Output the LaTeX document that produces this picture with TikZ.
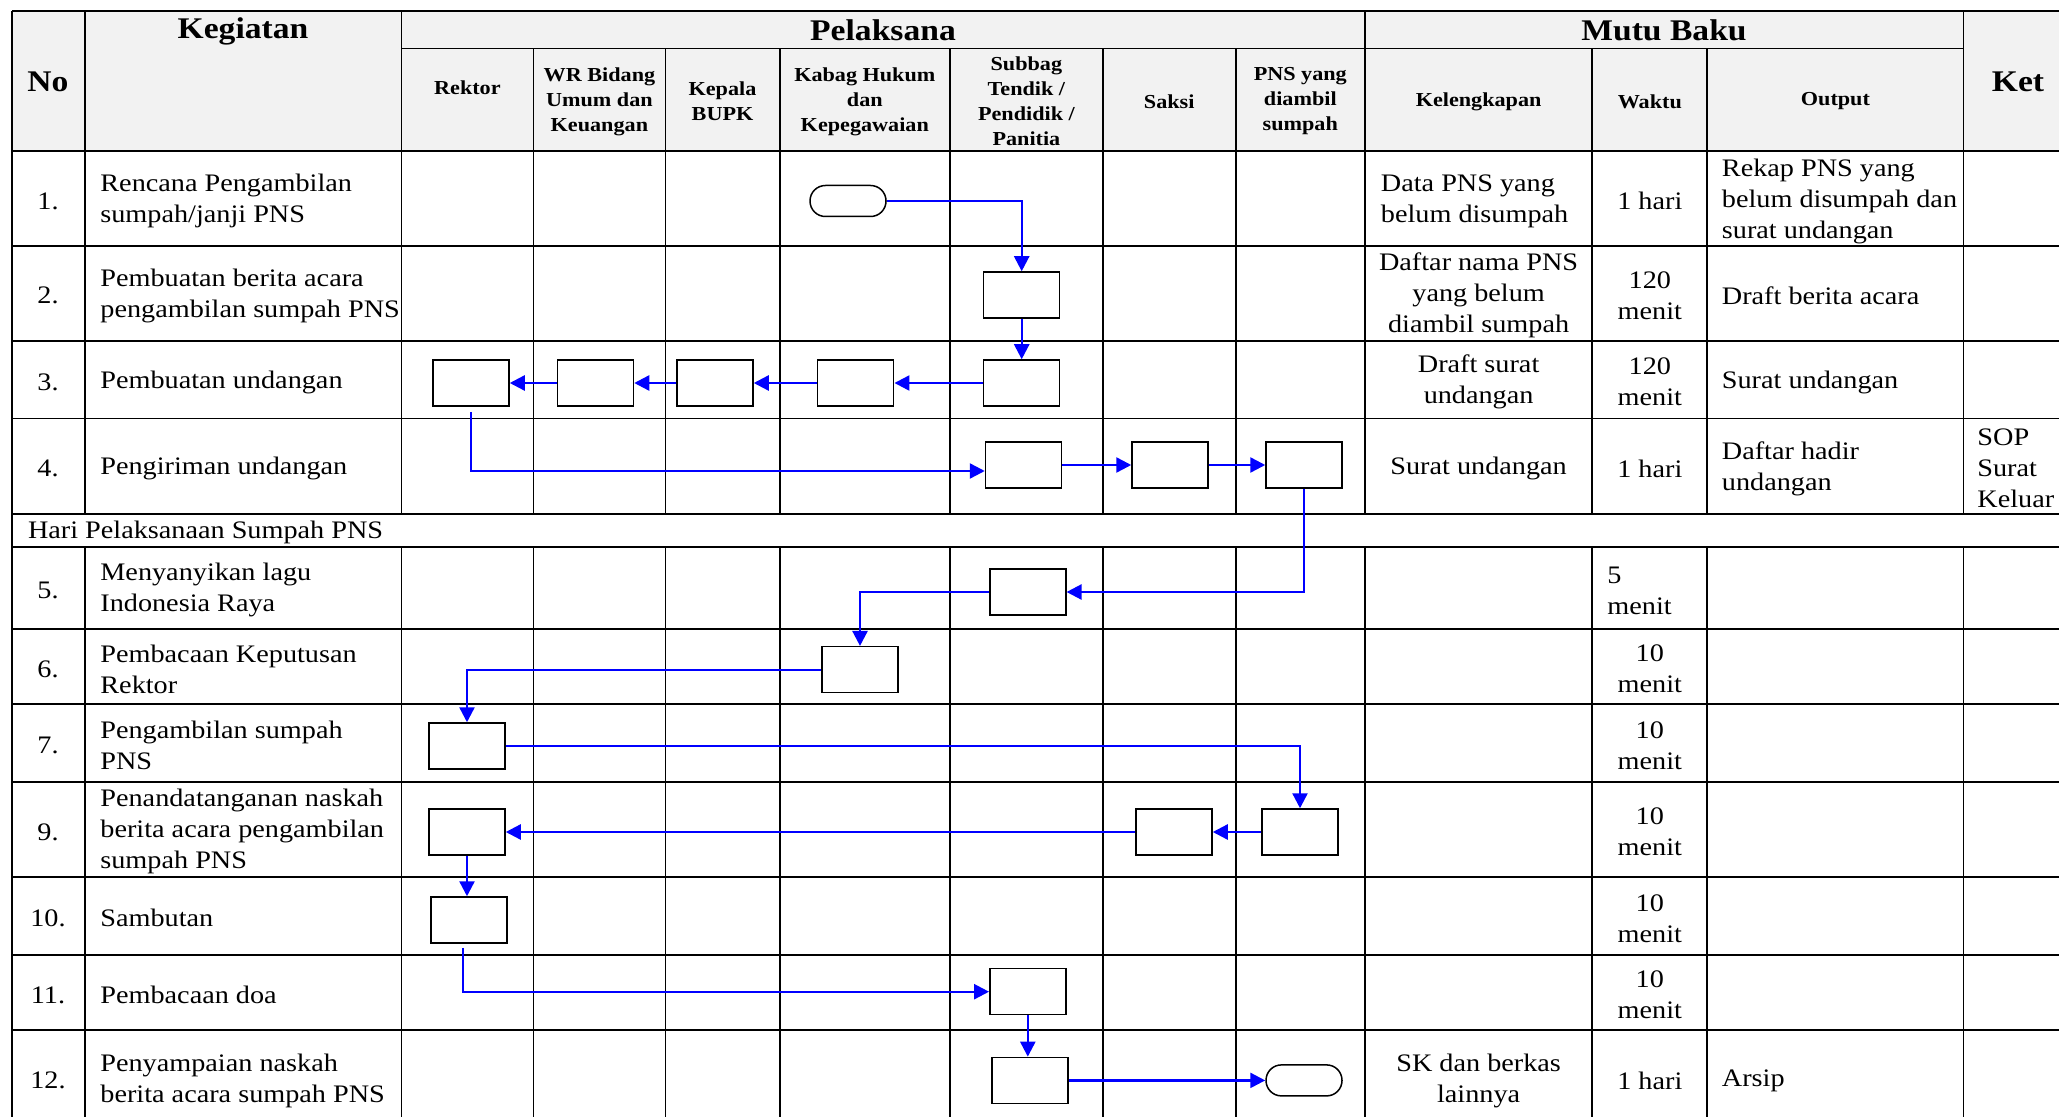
\documentclass[tikz,border=0pt]{standalone}
\usepackage{fontspec}
\setmainfont{Liberation Serif}[FakeStretch=1.12]
\usetikzlibrary{arrows.meta}
\definecolor{hdr}{HTML}{F2F2F2}
\definecolor{flow}{RGB}{0,0,255}
\newcommand\bodyfont{\fontsize{12.6}{15.5}\selectfont}
\newcommand\subfont{\fontsize{9.9}{12.5}\selectfont\bfseries}
\newcommand\bigfont{\fontsize{15}{17}\selectfont\bfseries}
\begin{document}
\begin{tikzpicture}[x=0.5pt,y=-0.5pt,
  box/.style={draw=black, line width=0.75pt, fill=white, minimum width=38pt, minimum height=23pt, inner sep=0pt},
  term/.style={draw=black, line width=0.75pt, fill=white, rounded corners=7.7pt, minimum width=38pt, minimum height=15.5pt, inner sep=0pt},
  arr/.style={draw=flow, line width=1.2pt, -{Triangle[length=7.5pt,width=7.5pt]}},
  gridline/.style={line width=0.9pt},
  thin/.style={line width=0.6pt},
  body/.style={font=\bodyfont, inner sep=0pt, yshift=-1.3pt},
  sub/.style={font=\subfont, align=center, inner sep=0pt, yshift=-1pt},
  big/.style={font=\bigfont, inner sep=0pt}]
\useasboundingbox (0,0) rectangle (2059,1117);
% header fill
\fill[hdr] (12,10.7) rectangle (2073,151);
% horizontal lines
\draw[gridline] (12,10.7) -- (2073,10.7);
\draw[thin] (401.4,48.2) -- (1963.5,48.2);
\draw[line width=1pt] (12,151) -- (2073,151);
\foreach \y in {245.7,340.7,418.5,513.6,546.8,628.7,703.8,781.8,876.7,954.7,1029.8}
  \draw[gridline] (12,\y) -- (2073,\y);
% vertical lines
\draw[gridline] (12,10.7) -- (12,1130);
\foreach \x in {84.7,401.4,1365,1963.5}{
  \draw[gridline] (\x,10.7) -- (\x,513.6);
  \draw[gridline] (\x,546.8) -- (\x,1130);}
\foreach \x in {533.4,665.4,779.7,949.9,1102.9,1235.6,1592.3,1707.3}{
  \draw[gridline] (\x,48.2) -- (\x,513.6);
  \draw[gridline] (\x,546.8) -- (\x,1130);}
% header texts
\node[big] (hNo) at (48,81.5) {No};
\node[big] (hKeg) at (243,31) {Kegiatan};
\node[big] (hPel) at (883,30) {Pelaksana};
\node[big] (hMutu) at (1664,30) {Mutu Baku};
\node[big] (hKet) at (2018,82) {Ket};
\node[sub] (s1) at (467.4,86) {Rektor};
\node[sub] (s2) at (599.4,99.5) {WR Bidang\\Umum dan\\Keuangan};
\node[sub] (s3) at (722.5,99.5) {Kepala\\BUPK};
\node[sub] (s4) at (864.8,99.5) {Kabag Hukum\\dan\\Kepegawaian};
\node[sub] (s5) at (1026.4,99.5) {Subbag\\Tendik /\\Pendidik /\\Panitia};
\node[sub] (s6) at (1169.2,99.5) {Saksi};
\node[sub] (s7) at (1300.3,99.5) {PNS yang\\diambil\\sumpah};
\node[sub] (s8) at (1478.6,99.5) {Kelengkapan};
\node[sub] (s9) at (1649.8,99.5) {Waktu};
\node[sub] (s10) at (1835.4,99.5) {Output};
% numbers
\foreach \n/\y [count=\i] in {1./198.4,2./293.2,3./379.6,4./466,5./587.8,6./666.3,7./742.8,9./829.3,10./915.7,11./992.3,12./1078}
  \node[body] (n\i) at (48,\y) {\n};
% activities
\node[body,anchor=west,align=left] (k1) at (100,198.4) {Rencana Pengambilan\\sumpah/janji PNS};
\node[body,anchor=west,align=left] (k2) at (100,293.2) {Pembuatan berita acara\\pengambilan sumpah PNS};
\node[body,anchor=west,align=left] (k3) at (100,379.6) {Pembuatan undangan};
\node[body,anchor=west,align=left] (k4) at (100,466) {Pengiriman undangan};
\node[body,anchor=west,align=left] (hari) at (27.6,530.2) {Hari Pelaksanaan Sumpah PNS};
\node[body,anchor=west,align=left] (k5) at (100,587.8) {Menyanyikan lagu\\Indonesia Raya};
\node[body,anchor=west,align=left] (k6) at (100,666.3) {Pembacaan Keputusan\\Rektor};
\node[body,anchor=west,align=left] (k7) at (100,742.8) {Pengambilan sumpah\\PNS};
\node[body,anchor=west,align=left] (k9) at (100,829.3) {Penandatanganan naskah\\berita acara pengambilan\\sumpah PNS};
\node[body,anchor=west,align=left] (k10) at (100,915.7) {Sambutan};
\node[body,anchor=west,align=left] (k11) at (100,992.3) {Pembacaan doa};
\node[body,anchor=west,align=left] (k12) at (100,1078) {Penyampaian naskah\\berita acara sumpah PNS};
% kelengkapan
\node[body,anchor=west,align=left] (l1) at (1380.5,198.4) {Data PNS yang\\belum disumpah};
\node[body,align=center] (l2) at (1478.6,293.2) {Daftar nama PNS\\yang belum\\diambil sumpah};
\node[body,align=center] (l3) at (1478.6,379.6) {Draft surat\\undangan};
\node[body,align=center] (l4) at (1478.6,466) {Surat undangan};
\node[body,align=center] (l12) at (1478.6,1078) {SK dan berkas\\lainnya};
% waktu
\node[body,align=center] (w1) at (1649.8,198.4) {1 hari};
\node[body,align=center] (w2) at (1649.8,293.2) {120\\menit};
\node[body,align=center] (w3) at (1649.8,379.6) {120\\menit};
\node[body,align=center] (w4) at (1649.8,466) {1 hari};
\node[body,anchor=west,align=left] (w5) at (1607,587.8) {5\\menit};
\node[body,align=center] (w6) at (1649.8,666.3) {10\\menit};
\node[body,align=center] (w7) at (1649.8,742.8) {10\\menit};
\node[body,align=center] (w9) at (1649.8,829.3) {10\\menit};
\node[body,align=center] (w10) at (1649.8,915.7) {10\\menit};
\node[body,align=center] (w11) at (1649.8,992.3) {10\\menit};
\node[body,align=center] (w12) at (1649.8,1078) {1 hari};
% output
\node[body,anchor=west,align=left] (o1) at (1721.5,198.4) {Rekap PNS yang\\belum disumpah dan\\surat undangan};
\node[body,anchor=west,align=left] (o2) at (1721.5,293.2) {Draft berita acara};
\node[body,anchor=west,align=left] (o3) at (1721.5,379.6) {Surat undangan};
\node[body,anchor=west,align=left] (o4) at (1721.5,466) {Daftar hadir\\undangan};
\node[body,anchor=west,align=left] (o12) at (1721.5,1078) {Arsip};
% ket
\node[body,anchor=west,align=left] (ket4) at (1977,466) {SOP\\Surat\\Keluar};
% flow shapes
\node[term] (t1) at (848,201) {};
\node[box] (b2) at (1021.7,295) {};
\node[box] (b3a) at (471,383) {};
\node[box] (b3b) at (595.5,383) {};
\node[box] (b3c) at (715,383) {};
\node[box] (b3d) at (855.7,383) {};
\node[box] (b3e) at (1021.7,383) {};
\node[box] (b4a) at (1023.5,465) {};
\node[box] (b4b) at (1170,465) {};
\node[box] (b4c) at (1304,465) {};
\node[box] (b5) at (1027.8,592) {};
\node[box] (b6) at (860,669.7) {};
\node[box] (b7) at (467,746) {};
\node[box] (b9a) at (467,832) {};
\node[box] (b9b) at (1174,832) {};
\node[box] (b9c) at (1300,832) {};
\node[box] (b10) at (468.8,920) {};
\node[box] (b11) at (1027.8,991.7) {};
\node[box] (b12) at (1030,1080.4) {};
\node[term] (t2) at (1304,1080.4) {};
% connectors
\draw[arr] (t1.east) -| (b2.north);
\draw[arr] (b2.south) -- (b3e.north);
\draw[arr] (b3e.west) -- (b3d.east);
\draw[arr] (b3d.west) -- (b3c.east);
\draw[arr] (b3c.west) -- (b3b.east);
\draw[arr] (b3b.west) -- (b3a.east);
\draw[arr] ([yshift=-2.5pt]b3a.south) |- ([yshift=-3pt]b4a.west);
\draw[arr] (b4a.east) -- (b4b.west);
\draw[arr] (b4b.east) -- (b4c.west);
\draw[arr] (b4c.south) |- (b5.east);
\draw[arr] (b5.west) -| (b6.north);
\draw[arr] (b6.west) -| (b7.north);
\draw[arr] (b7.east) -| (b9c.north);
\draw[arr] (b9c.west) -- (b9b.east);
\draw[arr] (b9b.west) -- (b9a.east);
\draw[arr] (b9a.south) -- (b9a.south |- b10.north);
\draw[arr] ([xshift=-3pt,yshift=-2pt]b10.south) |- (b11.west);
\draw[arr] (b11.south) -- (b11.south |- b12.north);
\draw[arr] (b12.east) -- (t2.west);
\end{tikzpicture}
\end{document}
